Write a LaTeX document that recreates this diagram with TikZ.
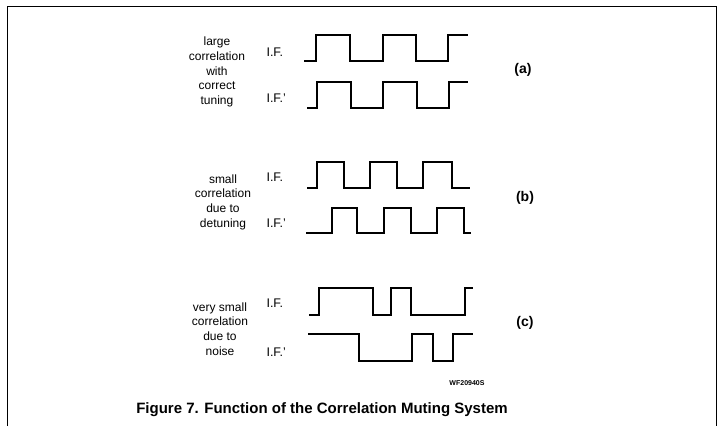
\documentclass[tikz,border=0pt]{standalone}
\usepackage{fontspec}
\setmainfont{Liberation Sans}
\usetikzlibrary{positioning}
\tikzset{
  wave/.style={line width=1.6pt,line join=miter},
  desc/.style={align=center,font=\fontsize{12}{14.7}\selectfont},
  sig/.style={anchor=west,font=\fontsize{12.5}{15}\selectfont},
  tag/.style={font=\fontsize{14}{17}\selectfont\bfseries},
}
\begin{document}
\begin{tikzpicture}[x=1pt,y=-1pt]
    \useasboundingbox (0,0) rectangle (718,426);
    \draw[line width=1pt] (7,426) -- (7,6) -- (716,6) -- (716,426);

    % (a) correct tuning
    \node[desc] (descA) at (217,72) {large\\correlation\\with\\correct\\tuning};
    \node[sig] (ifA) at (263,52) {I.F.};
    \node[sig] (ifpA) at (263,98) {I.F.’};
    \node[tag] (tagA) at (523,70) {(a)};
    \draw[wave] (304,61) -| (316,35) -| (350,61) -| (383,35) -| (416,61) -| (448,35) -- (468,35);
    \draw[wave] (307,108) -| (317,82) -| (351,108) -| (383,82) -| (417,108) -| (449,82) -- (468,82);

    % (b) detuning
    \node[desc] (descB) at (223,202) {small\\correlation\\due to\\detuning};
    \node[sig] (ifB) at (263,177) {I.F.};
    \node[sig] (ifpB) at (263,223) {I.F.’};
    \node[tag] (tagB) at (525,198) {(b)};
    \draw[wave] (307,188) -| (317,162) -| (344,188) -| (370,162) -| (397,188) -| (423,162) -| (452,188) -- (470,188);
    \draw[wave] (306,233) -| (332,208) -| (357,233) -| (384,208) -| (411,233) -| (437,208) -| (464,233) -- (471,233);

    % (c) noise
    \node[desc] (descC) at (220,329) {very small\\correlation\\due to\\noise};
    \node[sig] (ifC) at (263,303) {I.F.};
    \node[sig] (ifpC) at (263,352) {I.F.’};
    \node[tag] (tagC) at (525,323) {(c)};
    \draw[wave] (309,315) -| (319,288) -| (373,315) -| (391,288) -| (411,315) -| (465,288) -- (473,288);
    \draw[wave] (308,334) -| (359,361) -| (412,334) -| (433,361) -| (453,334) -- (473,334);

    \node[font=\fontsize{7}{8}\selectfont\bfseries] (ref) at (467,383) {WF20940S};
    \node[font=\fontsize{15}{18}\selectfont\bfseries] (caption) at (322,410) {Figure 7. Function of the Correlation Muting System};
\end{tikzpicture}
\end{document}
